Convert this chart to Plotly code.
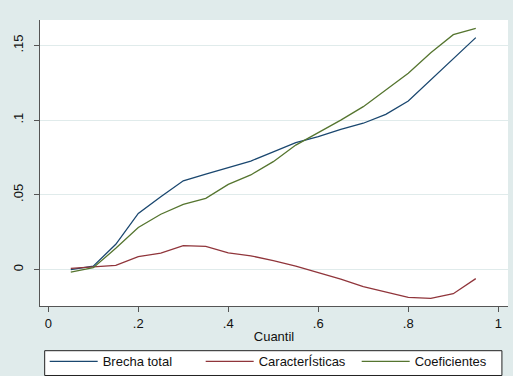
import plotly.graph_objects as go

cuantil = [0.05, 0.10, 0.15, 0.20, 0.25, 0.30, 0.35, 0.40, 0.45, 0.50,
           0.55, 0.60, 0.65, 0.70, 0.75, 0.80, 0.85, 0.90, 0.95]
brecha_total = [0.0000, 0.0023, 0.0169, 0.0376, 0.0487, 0.0594, 0.0639, 0.0684, 0.0726, 0.0788,
                0.0849, 0.0889, 0.0938, 0.0979, 0.1039, 0.1128, 0.1268, 0.1414, 0.1552]
caracteristicas = [0.0008, 0.0019, 0.0028, 0.0086, 0.0110, 0.0160, 0.0155, 0.0112, 0.0092, 0.0059,
                   0.0023, -0.0021, -0.0064, -0.0115, -0.0151, -0.0186, -0.0193, -0.0162, -0.0061]
coeficientes = [-0.0017, 0.0012, 0.0142, 0.0282, 0.0370, 0.0436, 0.0476, 0.0570, 0.0633, 0.0722,
                0.0833, 0.0916, 0.1000, 0.1090, 0.1201, 0.1313, 0.1451, 0.1572, 0.1614]

series_names = ["Brecha total", "CaracterÍsticas", "Coeficientes"]
x_ticks = [0, 0.2, 0.4, 0.6, 0.8, 1]
x_ticklabels = ["0", ".2", ".4", ".6", ".8", "1"]
y_ticks = [0, 0.05, 0.10, 0.15]
y_ticklabels = ["0", ".05", ".1", ".15"]

colors = ["#1a476f", "#90353b", "#55752f"]
bg = "#e0ebeb"
font = "Liberation Sans, Arial, sans-serif"

fig = go.Figure()
for name, vals, c in zip(series_names, [brecha_total, caracteristicas, coeficientes], colors):
    fig.add_trace(go.Scatter(x=cuantil, y=vals, mode="lines", name=name,
                             line=dict(color=c, width=1.3)))

# legend frame (white box with dark border), in paper coordinates
fig.add_shape(type="rect", xref="paper", yref="paper",
              x0=0.010, x1=0.987, y0=-0.243, y1=-0.1563,
              fillcolor="white", line=dict(color="#222", width=1), layer="below")

fig.update_layout(
    width=513, height=376,
    margin=dict(l=40, r=5, t=20, b=70, autoexpand=False),
    paper_bgcolor=bg, plot_bgcolor="white",
    font=dict(family=font, size=13, color="#111"),
    showlegend=True,
    legend=dict(orientation="h", x=0.01, xanchor="left", y=-0.141, yanchor="top",
                bgcolor="rgba(0,0,0,0)", borderwidth=0,
                entrywidth=93, entrywidthmode="pixels",
                font=dict(family=font, size=13, color="#111"),
                tracegroupgap=0, itemwidth=48),
)
fig.update_xaxes(range=[-0.0184, 1.0216], tickvals=x_ticks, ticktext=x_ticklabels,
                 showgrid=False, zeroline=False, showline=True, linecolor="#555", linewidth=1,
                 ticks="outside", ticklen=5, tickcolor="#555",
                 title=dict(text="Cuantil", standoff=2, font=dict(size=13)))
fig.update_yaxes(range=[-0.0244, 0.167], tickvals=y_ticks, ticktext=y_ticklabels,
                 tickangle=-90, showgrid=True, gridcolor=bg, gridwidth=1, zeroline=False,
                 showline=True, linecolor="#555", linewidth=1,
                 ticks="outside", ticklen=5, tickcolor="#555", ticklabelstandoff=6)

fig.write_html("out.html")
